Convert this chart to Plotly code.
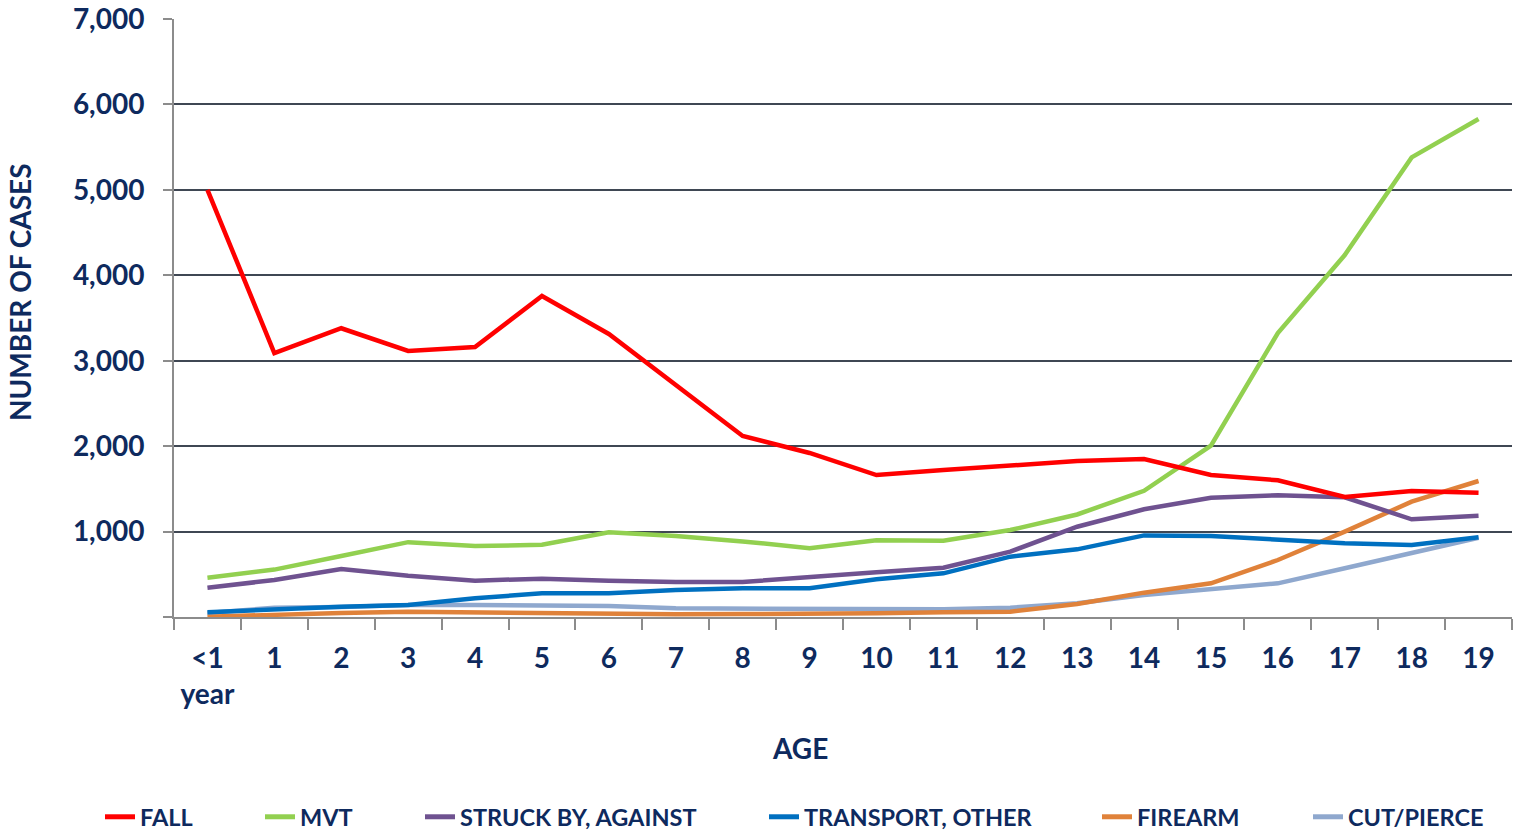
import plotly.graph_objects as go

ages = ["<1<br>year", "1", "2", "3", "4", "5", "6", "7", "8", "9", "10",
        "11", "12", "13", "14", "15", "16", "17", "18", "19"]

fall = [5000, 3090, 3380, 3115, 3160, 3757, 3313, 2716, 2119, 1920, 1662,
        1720, 1768, 1826, 1850, 1662, 1600, 1405, 1475, 1455]
mvt = [460, 555, 714, 876, 831, 845, 993, 948, 885, 806, 898,
       892, 1018, 1200, 1477, 2005, 3324, 4237, 5380, 5829]
struck = [343, 433, 562, 484, 425, 449, 425, 410, 410, 472, 523,
          577, 765, 1057, 1261, 1397, 1424, 1401, 1144, 1186]
transport = [55, 90, 121, 140, 219, 277, 277, 316, 336, 336, 441,
             511, 706, 792, 955, 948, 901, 862, 843, 933]
firearm = [4, 31, 47, 62, 55, 47, 31, 31, 35, 35, 43,
           55, 62, 152, 285, 394, 667, 999, 1350, 1592]
cutpierce = [47, 109, 117, 140, 140, 129, 129, 101, 101, 90, 90,
             90, 109, 160, 258, 324, 394, 570, 746, 928]

y_tickvals = [0, 1000, 2000, 3000, 4000, 5000, 6000, 7000]
y_ticktext = ["", "1,000", "2,000", "3,000", "4,000", "5,000", "6,000", "7,000"]

series = [
    ("FALL", fall, "#FF0000", 141),
    ("MVT", mvt, "#92D050", 301),
    ("STRUCK BY, AGAINST", struck, "#6F5290", 461),
    ("TRANSPORT, OTHER", transport, "#0070C0", 805),
    ("FIREARM", firearm, "#E0823A", 1138),
    ("CUT/PIERCE", cutpierce, "#8FA8CE", 1349),
]

TEXT = "#0E2A5E"
FONT = "Lato"

fig = go.Figure()
order = [5, 4, 3, 2, 1, 0]
for i in order:
    name, vals, color, _ = series[i]
    lg = "legend" if i == 0 else f"legend{i + 1}"
    fig.add_trace(go.Scatter(
        x=ages, y=vals, name=name, mode="lines",
        line=dict(color=color, width=4.5),
        legend=lg, hoverinfo="skip",
    ))

L, R, T, B = 174, 6, 19, 219
W, H = 1518, 836
pw = W - L - R
ph = H - T - B

layout_legends = {}
for i, (name, vals, color, text_px) in enumerate(series):
    key = "legend" if i == 0 else f"legend{i + 1}"
    lx = (text_px - 41 - L) / pw
    layout_legends[key] = dict(
        x=lx, y=(T + ph - 817) / ph, xanchor="left", yanchor="middle",
        orientation="h", bgcolor="rgba(0,0,0,0)", borderwidth=0,
        font=dict(family=FONT, size=23.5, color=TEXT, weight="bold"),
        itemsizing="constant",
    )

fig.update_layout(
    width=W, height=H,
    margin=dict(l=L, r=R, t=T, b=B, autoexpand=False),
    paper_bgcolor="white", plot_bgcolor="white",
    showlegend=True,
    font=dict(family=FONT, color=TEXT, size=28, weight="bold"),
    xaxis=dict(
        type="category", range=[-0.5, 19.5], automargin=False,
        showgrid=False, showline=True, linecolor="#8C8C8C", linewidth=2,
        ticks="outside", tickson="boundaries", ticklen=11, tickcolor="#8C8C8C",
        tickwidth=2, ticklabelstandoff=15,
        tickfont=dict(family=FONT, size=28, color=TEXT, weight="bold"),
        fixedrange=True,
    ),
    yaxis=dict(
        range=[0, 7000], tickvals=y_tickvals, ticktext=y_ticktext,
        automargin=False,
        showgrid=True, gridcolor="#3F4753", gridwidth=1.5,
        zeroline=False, showline=True, linecolor="#8C8C8C", linewidth=2,
        ticks="outside", ticklen=9, tickcolor="#8C8C8C", tickwidth=2,
        ticklabelstandoff=13,
        tickfont=dict(family=FONT, size=28, color=TEXT, weight="bold"),
        fixedrange=True,
    ),
    annotations=[
        dict(text="NUMBER OF CASES", xref="paper", yref="paper",
             x=(20 - L) / pw, y=(T + ph - 292) / ph, xanchor="center", yanchor="middle",
             textangle=-90, showarrow=False,
             font=dict(family=FONT, size=28, color=TEXT, weight="bold")),
        dict(text="AGE", xref="paper", yref="paper",
             x=(800 - L) / pw, y=(T + ph - 748) / ph, xanchor="center", yanchor="middle",
             showarrow=False,
             font=dict(family=FONT, size=28, color=TEXT, weight="bold")),
    ],
    **layout_legends,
)

fig.write_html("out.html", config={"displayModeBar": False},
               post_script="document.body.style.margin='0';")
